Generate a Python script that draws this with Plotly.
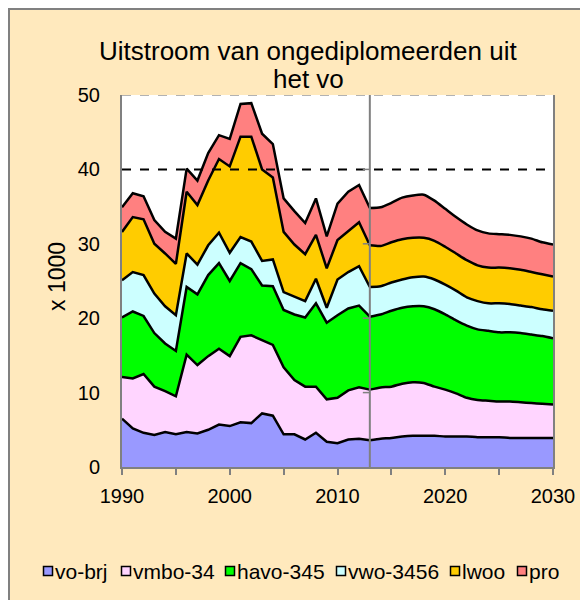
import plotly.graph_objects as go

# Uitstroom ongediplomeerden (x 1000), historic 1990-2013, projection 2013-2030
YEARS_HIST = list(range(1990, 2014))
YEARS_PROJ = list(range(2013, 2031))

VO_BRJ_HIST = [6.5, 5.2, 4.6, 4.3, 4.7, 4.4, 4.7, 4.5, 5.0, 5.7, 5.5, 6.0,
               5.9, 7.2, 6.9, 4.4, 4.4, 3.7, 4.6, 3.4, 3.2, 3.7, 3.8, 3.6]
VMBO_HIST = [5.6, 6.7, 7.9, 6.5, 5.5, 5.1, 10.4, 9.2, 9.9, 10.2, 9.4, 11.5,
             11.8, 9.9, 9.5, 9.0, 7.3, 7.1, 6.2, 5.7, 6.1, 6.6, 6.9, 6.8]
HAVO_HIST = [8.0, 9.0, 7.8, 7.2, 6.4, 6.1, 9.1, 9.5, 10.9, 11.5, 10.1, 9.9,
             8.9, 7.3, 7.9, 7.7, 8.8, 9.3, 11.2, 10.3, 11.1, 11.0, 11.0, 9.8]
VWO_HIST = [5.0, 5.3, 5.5, 5.3, 5.0, 4.8, 4.5, 4.0, 4.0, 4.1, 3.8, 3.5,
            3.7, 3.3, 3.6, 2.4, 2.4, 2.2, 3.3, 2.0, 4.8, 4.9, 5.3, 4.0]
LWOO_HIST = [6.5, 7.4, 7.5, 6.7, 7.1, 6.9, 8.3, 8.0, 8.7, 9.9, 11.6, 13.5,
             14.1, 12.3, 11.0, 8.1, 7.0, 6.3, 5.9, 5.3, 5.3, 5.5, 5.9, 5.6]
PRO_HIST = [3.3, 3.2, 3.1, 3.2, 2.9, 3.4, 3.1, 3.3, 3.7, 3.2, 3.7, 4.4,
            4.5, 4.8, 4.5, 4.5, 4.5, 4.2, 4.9, 4.3, 4.9, 5.3, 5.0, 5.0]

VO_BRJ_PROJ = [3.6, 3.8, 3.9, 4.1, 4.2, 4.2, 4.2, 4.1, 4.1,
               4.1, 4.0, 4.0, 4.0, 3.9, 3.9, 3.9, 3.9, 3.9]
VMBO_PROJ = [6.8, 6.9, 6.9, 7.1, 7.2, 7.1, 6.6, 6.3, 5.8,
             5.2, 5.0, 4.9, 4.8, 4.9, 4.8, 4.7, 4.6, 4.5]
HAVO_PROJ = [9.8, 9.8, 10.2, 10.2, 10.2, 10.3, 10.4, 10.1, 9.8,
             9.7, 9.5, 9.4, 9.3, 9.3, 9.3, 9.2, 9.1, 8.9]
VWO_PROJ = [4.0, 3.8, 3.8, 3.8, 3.9, 4.0, 4.0, 4.0, 4.0,
            3.8, 3.8, 3.7, 3.9, 3.8, 3.7, 3.7, 3.6, 3.7]
LWOO_PROJ = [5.6, 5.4, 5.4, 5.4, 5.3, 5.2, 5.2, 5.1, 5.0,
             5.0, 4.8, 4.8, 4.8, 4.8, 4.8, 4.7, 4.7, 4.6]
PRO_PROJ = [5.0, 5.2, 5.3, 5.6, 5.7, 5.8, 5.4, 5.1, 4.9,
            4.8, 4.7, 4.6, 4.5, 4.5, 4.5, 4.5, 4.3, 4.3]

SERIES = ["vo-brj", "vmbo-34", "havo-345", "vwo-3456", "lwoo", "pro"]
HIST = [VO_BRJ_HIST, VMBO_HIST, HAVO_HIST, VWO_HIST, LWOO_HIST, PRO_HIST]
PROJ = [VO_BRJ_PROJ, VMBO_PROJ, HAVO_PROJ, VWO_PROJ, LWOO_PROJ, PRO_PROJ]
COLOURS = ["#9999FF", "#FFD5FF", "#00FF00", "#CCFFFF", "#FFCC00", "#FF8080"]

Y_TICKS = [0, 10, 20, 30, 40, 50]
REFERENCE_LEVEL = 40
PROJECTION_START = 2013
TITLE_LINES = ["Uitstroom van ongediplomeerden uit", "het vo"]

FONT = "Liberation Sans, Arial, sans-serif"
BG = "#FFE9BD"
GREY = "#808080"

# the page body keeps its 8px margin, so the figure sits at (8, 8)
PAGE = 8
W, H = 580, 592
ML, MR, MT, MB = 114, 35, 87, 133
PW, PH = W - ML - MR, H - MT - MB


def px(x):
    """screen x pixel -> paper x"""
    return (x - PAGE - ML) / PW


def py(y):
    """screen y pixel -> paper y"""
    return (H - MB - (y - PAGE)) / PH


fig = go.Figure()

for name, hist, proj, colour in zip(SERIES, HIST, PROJ, COLOURS):
    fig.add_trace(go.Scatter(
        x=YEARS_HIST, y=hist, name=name, stackgroup="hist",
        mode="lines", line=dict(color="black", width=2.5),
        fillcolor=colour, showlegend=False,
    ))
    fig.add_trace(go.Scatter(
        x=YEARS_PROJ, y=proj, name=name, stackgroup="proj",
        mode="lines", line=dict(color="black", width=2.5, shape="spline", smoothing=0.6),
        fillcolor=colour, showlegend=False,
    ))

x_lo, x_hi = YEARS_HIST[0], YEARS_PROJ[-1]

# dashed reference line at 40 and dashed top edge
fig.add_shape(type="line", xref="x", yref="y", x0=x_lo, x1=x_hi,
              y0=REFERENCE_LEVEL, y1=REFERENCE_LEVEL,
              line=dict(color="black", width=2, dash="dash"))
fig.add_shape(type="line", xref="x", yref="y", x0=x_lo, x1=x_hi,
              y0=Y_TICKS[-1], y1=Y_TICKS[-1], line=dict(color="#999999", width=1.5, dash="dash"))
# vertical axis crossing at the start of the projection, with its ticks
fig.add_shape(type="line", xref="x", yref="y", x0=PROJECTION_START, x1=PROJECTION_START,
              y0=Y_TICKS[0], y1=Y_TICKS[-1], line=dict(color=GREY, width=2))
for v in Y_TICKS[1:-1]:
    fig.add_shape(type="line", xref="x", yref="y", xsizemode="pixel",
                  xanchor=PROJECTION_START, x0=-7, x1=0, y0=v, y1=v,
                  line=dict(color=GREY, width=1.5))
# outer chart border just inside the figure edge
fig.add_shape(type="rect", xref="paper", yref="paper", x0=px(PAGE + 1), x1=px(PAGE + W + 20),
              y0=py(PAGE + H + 20), y1=py(PAGE + 1), line=dict(color=GREY, width=2),
              fillcolor="rgba(0,0,0,0)", layer="below")

annotations = []
# title, two lines
for text, base in zip(TITLE_LINES, [62, 90]):
    annotations.append(dict(text=text, xref="paper", yref="paper", x=px(308), y=py(base + 6),
                            xanchor="center", yanchor="bottom", showarrow=False,
                            font=dict(family=FONT, size=26, color="black")))
# y axis title
annotations.append(dict(text="x 1000", xref="paper", yref="paper", x=px(57), y=py(277),
                        xanchor="center", yanchor="middle", textangle=-90, showarrow=False,
                        font=dict(family=FONT, size=23, color="black")))

# custom one-row legend
LEGEND_SQUARE_X = [48, 126, 230, 341, 455, 522]
LEGEND_Y = 571
for name, colour, sx in zip(SERIES, COLOURS, LEGEND_SQUARE_X):
    fig.add_shape(type="rect", xref="paper", yref="paper",
                  x0=px(sx - 4.5), x1=px(sx + 4.5), y0=py(LEGEND_Y + 4.5), y1=py(LEGEND_Y - 4.5),
                  fillcolor=colour, line=dict(color="black", width=1.5))
    annotations.append(dict(text=name, xref="paper", yref="paper", x=px(sx + 5), y=py(LEGEND_Y),
                            xanchor="left", yanchor="middle", showarrow=False,
                            font=dict(family=FONT, size=21, color="black")))

fig.update_layout(
    width=W, height=H,
    paper_bgcolor=BG, plot_bgcolor="white",
    margin=dict(l=ML, r=MR, t=MT, b=MB, autoexpand=False),
    font=dict(family=FONT, size=20, color="black"),
    xaxis=dict(range=[x_lo, x_hi], dtick=10, tick0=1990, ticks="outside",
               ticklen=6, tickcolor=GREY, tickwidth=1.5, ticklabelstandoff=4,
               showgrid=False, zeroline=False,
               showline=True, linecolor=GREY, linewidth=2,
               minor=dict(dtick=5, ticks="outside", ticklen=6, tickcolor=GREY, tickwidth=1.5),
               fixedrange=True),
    yaxis=dict(range=[Y_TICKS[0], Y_TICKS[-1]], tickvals=Y_TICKS, ticks="",
               ticklabelstandoff=16, showgrid=False, zeroline=False,
               showline=True, linecolor=GREY, linewidth=2, mirror=True,
               fixedrange=True),
    annotations=annotations,
    showlegend=False,
)

fig.write_html("out.html")
